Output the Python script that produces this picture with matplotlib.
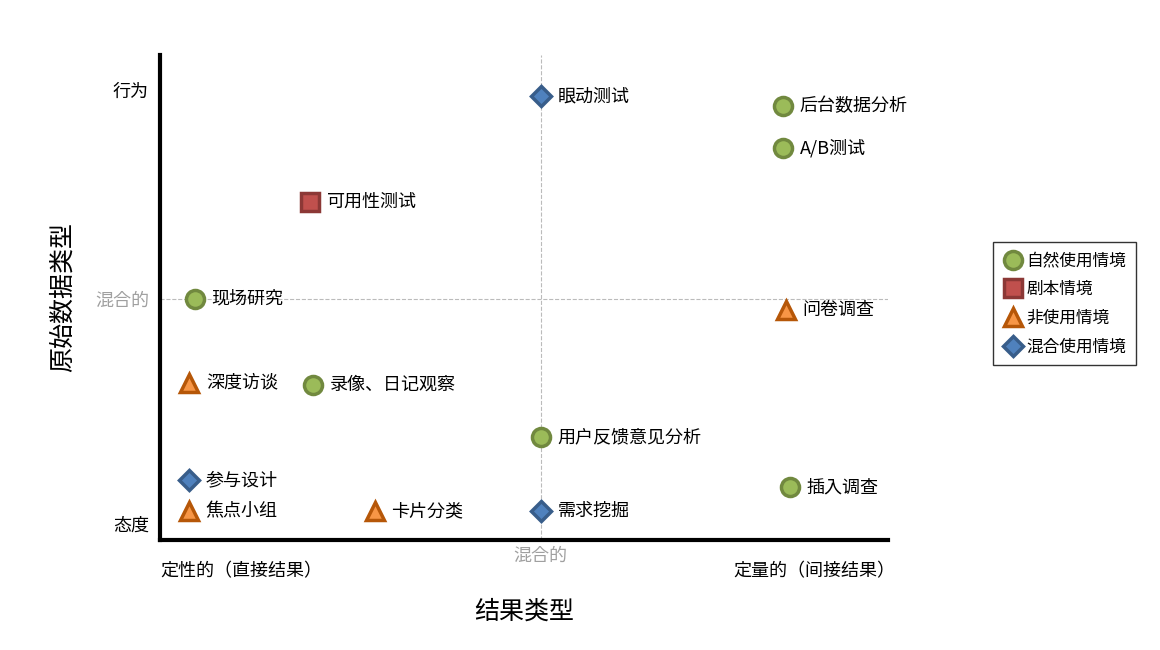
import matplotlib.pyplot as plt
from matplotlib.lines import Line2D
from matplotlib import font_manager

# pick whichever CJK family is actually registered
cjk = [f.name for f in font_manager.fontManager.ttflist if "CJK" in f.name]
plt.rcParams["font.family"] = ["Noto Sans CJK SC", "Noto Sans CJK JP"] + sorted(set(cjk)) + ["DejaVu Sans"]

names = ["眼动测试", "后台数据分析", "A/B测试", "可用性测试", "现场研究", "问卷调查",
         "深度访谈", "录像、日记观察", "用户反馈意见分析", "插入调查", "参与设计",
         "焦点小组", "卡片分类", "需求挖掘"]
xs = [52.3, 85.6, 85.6, 20.6, 4.8, 86.0, 4.0, 21.0, 52.3, 86.5, 4.0, 4.0, 29.5, 52.3]
ys = [91.5, 89.5, 80.8, 69.7, 49.7, 47.4, 32.4, 32.0, 21.2, 10.9, 12.4, 6.0, 6.0, 6.0]
kinds = ["混合使用情境", "自然使用情境", "自然使用情境", "剧本情境", "自然使用情境", "非使用情境",
         "非使用情境", "自然使用情境", "自然使用情境", "自然使用情境", "混合使用情境",
         "非使用情境", "非使用情境", "混合使用情境"]

styles = {
    "自然使用情境": dict(marker="o", mfc="#9BBB59", mec="#71893F", ms=13),
    "剧本情境": dict(marker="s", mfc="#C0504D", mec="#8C3836", ms=13),
    "非使用情境": dict(marker="^", mfc="#F79646", mec="#B65708", ms=13),
    "混合使用情境": dict(marker="D", mfc="#4F81BD", mec="#385D8A", ms=10),
}

fig = plt.figure(figsize=(11.6, 6.5), dpi=100)
ax = fig.add_axes([160 / 1160, 110 / 650, 728 / 1160, 485 / 650])
ax.set_xlim(0, 100)
ax.set_ylim(0, 100)

ax.axvline(52.3, color="#BBBBBB", ls="--", lw=0.8, zorder=0)
ax.axhline(49.7, color="#BBBBBB", ls="--", lw=0.8, zorder=0)

for n, x, y, k in zip(names, xs, ys, kinds):
    ax.plot(x, y, ls="none", mew=2.5, **styles[k])
    ax.text(x + 2.3, y, n, fontsize=13, va="center", ha="left")

for s in ["top", "right"]:
    ax.spines[s].set_visible(False)
ax.spines["left"].set_linewidth(3)
ax.spines["bottom"].set_linewidth(3)

ax.set_yticks([3.3, 49.7, 92.8])
ax.set_yticklabels(["态度", "混合的", "行为"], fontsize=13)
ax.get_yticklabels()[1].set_color("#A0A0A0")
ax.set_xticks([])
ax.tick_params(length=0, pad=8)
ax.text(0, -4.5, "定性的（直接结果）", fontsize=13, ha="left", va="top")
ax.text(52.3, -1.5, "混合的", fontsize=13, ha="center", va="top", color="#A0A0A0")
ax.text(101, -4.5, "定量的（间接结果）", fontsize=13, ha="right", va="top")
ax.set_xlabel("结果类型", fontsize=18, labelpad=42)
ax.set_ylabel("原始数据类型", fontsize=18, labelpad=14)

handles = [Line2D([], [], ls="none", mew=2.5, **styles[k]) for k in styles]
fig.legend(handles, list(styles), loc="upper left", bbox_to_anchor=(985 / 1160, 1 - 234 / 650),
           fontsize=12, fancybox=False, edgecolor="black", handletextpad=0.2,
           borderpad=0.6, labelspacing=0.7, handlelength=1.2)

fig.savefig("out.png")
